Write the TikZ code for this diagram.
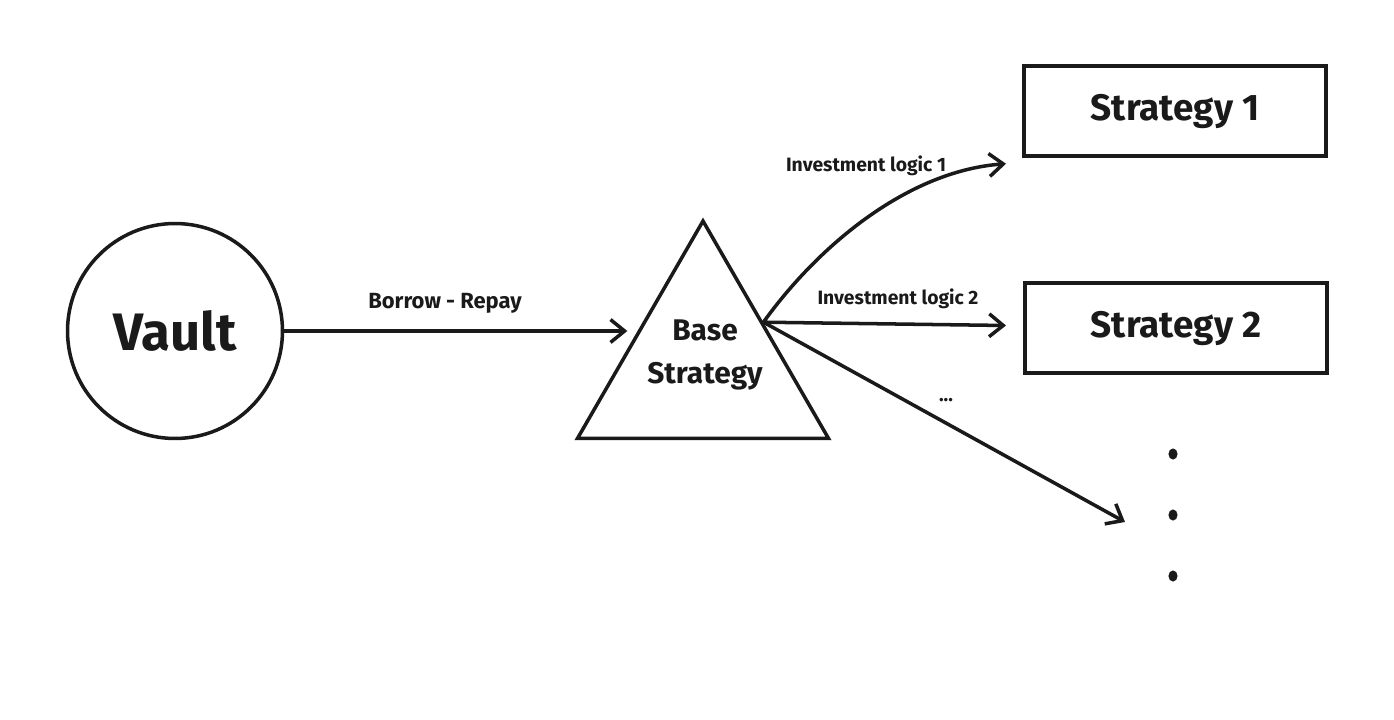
\documentclass[tikz,border=0pt]{standalone}
\usepackage{fontspec}
\setmainfont{Fira Sans}
\usetikzlibrary{arrows.meta,positioning,shapes.geometric,calc}
\definecolor{ink}{HTML}{1A1A1A}

\begin{document}
\begin{tikzpicture}[x=0.02cm, y=-0.02cm, line width=2pt, color=ink,
  vaultnode/.style={circle, draw, minimum size=4.3cm, inner sep=0pt, font=\fontsize{30}{32}\selectfont\bfseries},
  basenode/.style={regular polygon, regular polygon sides=3, draw, minimum size=5.8cm, inner sep=0pt},
  stratbox/.style={rectangle, draw, minimum width=6.05cm, minimum height=1.8cm, font=\fontsize{21}{24}\selectfont\bfseries},
  flowlab/.style={font=\fontsize{11}{13}\selectfont\bfseries},
  flow/.style={-{Straight Barb[length=8pt, width=13pt]}},
]
\useasboundingbox (0,0) rectangle (1394,720);

% --- Vault and base strategy ---
\node[vaultnode] (vault) at (175,331) {Vault};
\node[basenode] (base) at (703,366) {};
\node[font=\fontsize{17}{24}\selectfont\bfseries, align=center] (basetxt) at (705,355) {Base\\Strategy};

% --- Strategies ---
\node[stratbox] (s1) at (1175,111) {Strategy 1};
\node[stratbox] (s2) at (1176,328) {Strategy 2};

% anchor points on the triangle sides
\coordinate (in) at ($(base.corner 1)!0.52!(base.corner 2)$);
\coordinate (out) at ($(base.corner 1)!0.47!(base.corner 3)$);
\coordinate (s1tip) at ([xshift=-0.32cm, yshift=-0.12cm]s1.south west);
\coordinate (more) at (1125,522);

% --- Connectors ---
\draw[flow, shorten >=5pt] (vault.east) -- (vault.east -| in);
\node[flowlab, font=\fontsize{12.5}{14}\selectfont\bfseries] (borrow) at (445,303) {Borrow - Repay};

\draw[flow] (out) .. controls +(56,-78) and +(-97,7) .. (s1tip);
\node[flowlab] (logic1) at (866,166) {Investment logic 1};

\draw[flow] (out) -- ([xshift=-0.34cm, yshift=0.05cm]s2.west);
\node[flowlab] (logic2) at (898,299) {Investment logic 2};

\draw[flow] (out) -- (more);
\node[flowlab] (etc) at (946,400) {...};

% vertical dots
\foreach \y in {454,515,576}
  \fill (1173,\y) ellipse (2.6pt and 3.2pt);

\end{tikzpicture}
\end{document}
